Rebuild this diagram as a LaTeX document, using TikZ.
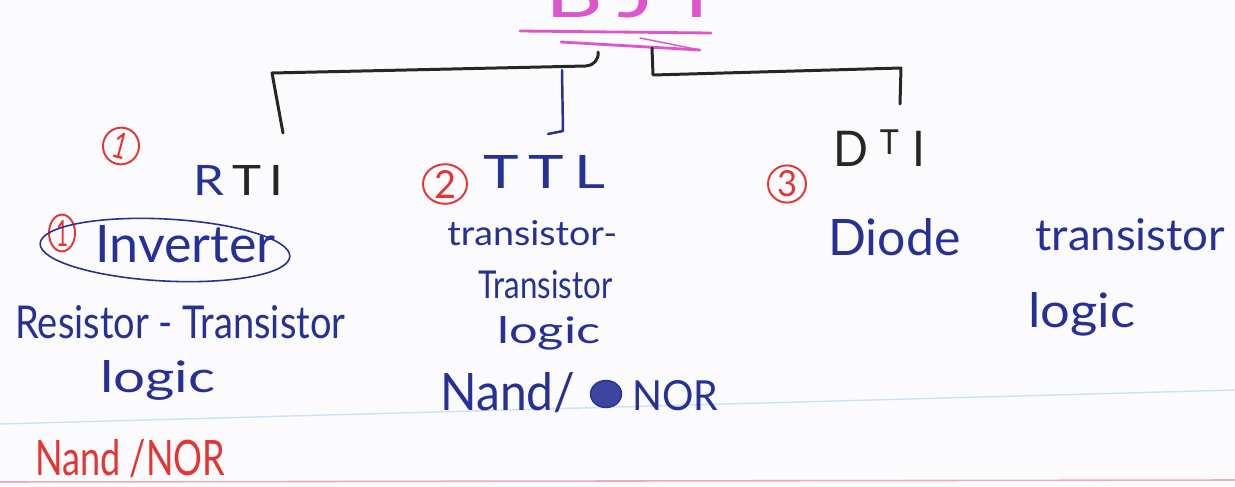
\documentclass[tikz,border=0pt]{standalone}
\usepackage{fontspec}
\setmainfont{Lato}
\usepackage{graphicx}
\usetikzlibrary{shapes.geometric}
\definecolor{inkblue}{RGB}{38,48,150}
\definecolor{inkred}{RGB}{228,52,52}
\definecolor{inkpink}{RGB}{222,84,205}
\definecolor{inkblack}{RGB}{38,38,38}
\definecolor{paper}{RGB}{251,251,253}
\definecolor{ruleblue}{RGB}{205,226,242}
\definecolor{rulepink}{RGB}{238,170,185}
% one drawing unit = one pixel of the sheet
\newlength\pxu \setlength\pxu{0.02cm}
\newcommand\inkfit[3]{\resizebox{#1\pxu}{#2\pxu}{#3}}
\tikzset{
  word/.style={inner sep=0pt, anchor=base west},
  blueword/.style={word, text=inkblue},
  redword/.style={word, text=inkred},
  blackword/.style={word, text=inkblack},
  pinkword/.style={word, text=inkpink},
  blackpen/.style={draw=inkblack, line width=1.7pt, line cap=round, line join=round},
  bluepen/.style={draw=inkblue, line width=1.4pt, line cap=round, line join=round},
  pinkpen/.style={draw=inkpink, line width=1.6pt, line cap=round},
  numring/.style={ellipse, draw=inkred, line width=1.1pt, inner sep=0pt, text=inkred},
}
\begin{document}
\begin{tikzpicture}[x=0.02cm, y=-0.02cm]
  \useasboundingbox (0,0) rectangle (1235,487);
  \clip (0,0) rectangle (1235,487);
  \fill[paper] (0,0) rectangle (1235,487);

  % ruled lines of the sheet
  \coordinate (rb1) at (0,424); \coordinate (rb2) at (1235,390);
  \draw[ruleblue, line width=0.8pt] (rb1) -- (rb2);
  \coordinate (rp1) at (0,482); \coordinate (rp2) at (1235,480);
  \draw[rulepink, line width=0.9pt] (rp1) -- (rp2);

  % title with its double underline
  \node[pinkword] (title) at (545,17) {\inkfit{178}{46}{B\,J\,T}};
  \coordinate (u1a) at (520,31); \coordinate (u1b) at (711,33);
  \coordinate (u2a) at (561,42); \coordinate (u2b) at (700,50);
  \coordinate (u2c) at (640,38);
  \draw[pinkpen] (u1a) -- (u1b);
  \draw[pinkpen] (u2a) -- (u2b);
  \draw[pinkpen, line width=0.8pt] (u2c) -- (u2b);

  % branches of the tree
  \coordinate (lTip) at (283,133); \coordinate (lCorner) at (272,73);
  \coordinate (lEnd) at (586,66);  \coordinate (lHook) at (598,52);
  \draw[blackpen] (lTip) -- (lCorner) -- (lEnd) to[out=0,in=-80] (lHook);
  \coordinate (rTop) at (652,48);  \coordinate (rCorner) at (653,75);
  \coordinate (rEnd) at (901,68);  \coordinate (rTip) at (900,104);
  \draw[blackpen] (rTop) -- (rCorner) -- (rEnd) -- (rTip);
  \coordinate (mTop) at (562,70); \coordinate (mBot) at (563,131);
  \coordinate (mFoot) at (548,134);
  \draw[bluepen] (mTop) -- (mBot) -- (mFoot);

  % circled numbers
  \node[numring, minimum width=36\pxu, minimum height=34\pxu, rotate=-15] (n1) at (121,146) {\inkfit{14}{26}{1}};
  \node[numring, minimum width=44\pxu, minimum height=36\pxu] (n2) at (445,184) {\inkfit{22}{28}{2}};
  \node[numring, minimum width=38\pxu, minimum height=36\pxu] (n3) at (787,184) {\inkfit{20}{26}{3}};
  \node[numring, minimum width=26\pxu, minimum height=36\pxu] (n4) at (62,233) {\inkfit{12}{26}{1}};

  % family names
  \node[blackword] (rtl) at (193,195) {\inkfit{90}{30}{{\color{inkblue}R}\,T\,I}};
  \node[blueword] (ttl) at (483,188) {\inkfit{122}{33}{T\,T\,L}};
  \node[blackword] (dtl) at (833,166) {\inkfit{92}{36}{D\hspace{0.25em}\raisebox{0.23em}{\scalebox{0.7}{T}}\hspace{0.3em}I}};

  % resistor-transistor column
  \node[blueword] (inv) at (95,262) {\inkfit{180}{37}{Inverter}};
  \node[ellipse, draw=inkblue, line width=0.9pt, minimum width=250\pxu, minimum height=62\pxu, rotate=-3] (invring) at (165,250) {};
  \node[blueword] (rtl1) at (15,338) {\inkfit{330}{33}{Resistor - Transistor}};
  \node[blueword] (rtl2) at (100,392) {\inkfit{115}{32}{logic}};
  \node[redword] (rtl3) at (35,475) {\inkfit{190}{36}{Nand /NOR}};

  % transistor-transistor column
  \node[blueword] (ttl1) at (447,245) {\inkfit{170}{25}{transistor-}};
  \node[blueword] (ttl2) at (478,298) {\inkfit{134}{28}{Transistor}};
  \node[blueword] (ttl3) at (497,343) {\inkfit{103}{27}{logic}};
  \node[blueword] (ttl4) at (440,410) {\inkfit{135}{38}{Nand/}};
  \node[ellipse, fill=inkblue!90, draw=inkblue, line width=0.8pt, minimum width=31\pxu, minimum height=27\pxu, inner sep=0pt] (scrib) at (606,394) {};
  \node[blueword] (ttl5) at (632,410) {\inkfit{86}{30}{NOR}};

  % diode-transistor column
  \node[blueword] (dtl1) at (828,255) {\inkfit{132}{37}{Diode}};
  \node[blueword] (dtl2) at (1035,250) {\inkfit{190}{32}{transistor}};
  \node[blueword] (dtl3) at (1028,327) {\inkfit{107}{35}{logic}};
\end{tikzpicture}
\end{document}
